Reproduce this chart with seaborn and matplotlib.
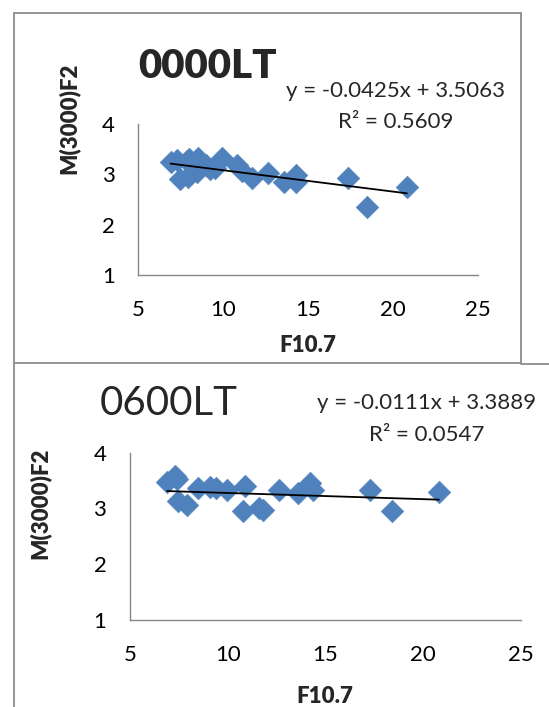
import matplotlib
matplotlib.use("Agg")
import matplotlib.pyplot as plt
from matplotlib.lines import Line2D
import numpy as np
import pandas as pd
import seaborn as sns

# F10.7 solar flux against M(3000)F2, 0000 LT
f107_0000 = [6.9, 7.3, 7.45, 7.85, 7.9, 8.0, 8.5, 8.45, 9.0, 9.2, 9.5, 9.95,
             10.8, 11.1, 11.7, 12.65, 13.6, 14.25, 14.25, 17.35, 18.45, 20.8]
m3000_0000 = [3.25, 3.28, 2.90, 3.27, 2.94, 3.30, 3.33, 3.05, 3.18, 3.10, 3.13, 3.33,
              3.18, 3.06, 2.92, 3.02, 2.85, 2.99, 2.85, 2.92, 2.36, 2.75]

# F10.7 solar flux against M(3000)F2, 0600 LT
f107_0600 = [6.9, 7.3, 7.4, 7.45, 7.9, 8.5, 9.1, 9.4, 9.95, 10.9, 10.8, 11.6,
             11.8, 12.6, 13.6, 14.2, 14.35, 17.3, 18.4, 20.8]
m3000_0600 = [3.47, 3.58, 3.52, 3.14, 3.06, 3.36, 3.39, 3.37, 3.33, 3.40, 2.96, 3.01,
              2.98, 3.33, 3.27, 3.46, 3.34, 3.34, 2.96, 3.29]

# linear trend lines (slope, intercept, R^2)
fit_0000 = (-0.0425, 3.5063, 0.5609)
fit_0600 = (-0.0111, 3.3889, 0.0547)

x_ticks = [5, 10, 15, 20, 25]
y_ticks = [1, 2, 3, 4]

sns.set_style("white")
plt.rcParams["font.family"] = ["Lato", "DejaVu Sans"]

W, H = 549, 707
fig = plt.figure(figsize=(W / 100, H / 100), dpi=100)


def fx(x):
    return x / W


def fy(y):
    return 1 - y / H


GREY = "#868686"
BLUE = "#4F81BD"


def panel(rect, xs, ys, fit):
    ax = fig.add_axes(rect)
    df = pd.DataFrame({"F10.7": xs, "M(3000)F2": ys})
    sns.scatterplot(data=df, x="F10.7", y="M(3000)F2", ax=ax, marker="D", s=135,
                    color=BLUE, edgecolor=BLUE, linewidth=0.3, zorder=2, clip_on=False)
    slope, intercept, _ = fit
    lx = np.array([min(xs), max(xs)])
    ax.plot(lx, slope * lx + intercept, color="black", lw=1.3, zorder=3)
    ax.set_xlim(5, 25)
    ax.set_ylim(1, 4)
    ax.set_xticks(x_ticks)
    ax.set_yticks(y_ticks)
    ax.set_xlabel("")
    ax.set_ylabel("")
    for s in ("top", "right"):
        ax.spines[s].set_visible(False)
    for s in ("left", "bottom"):
        ax.spines[s].set_color(GREY)
        ax.spines[s].set_linewidth(1.0)
    ax.tick_params(direction="out", length=5.5, width=1.0, color=GREY,
                   labelsize=16, labelcolor="black")
    ax.tick_params(axis="x", pad=12.5)
    ax.tick_params(axis="y", pad=11.5)
    ax.patch.set_alpha(0)
    return ax


ax_top = panel([fx(138.3), fy(275), 340 / W, 151 / H], f107_0000, m3000_0000, fit_0000)
ax_bot = panel([fx(130), fy(620), 391 / W, 167.3 / H], f107_0600, m3000_0600, fit_0600)

# chart frames
frame = dict(color="#8C8C8C", lw=1.3, transform=fig.transFigure)
for xs_, ys_ in [([14, 521], [12.5, 12.5]), ([521, 521], [12.5, 362.5]),
                 ([14, 521], [362.5, 362.5]), ([14, 14], [12.5, 707]),
                 ([521, 549], [363.5, 363.5])]:
    fig.add_artist(Line2D([fx(v) for v in xs_], [fy(v) for v in ys_], **frame))

# titles
fig.text(fx(208), fy(78), "0000LT", fontsize=29, fontweight="heavy", ha="center", va="baseline")
fig.text(fx(168.5), fy(415), "0600LT", fontsize=29, ha="center", va="baseline")

# trend line equations
for (cx, by1, by2), fit in [((396, 97, 128), fit_0000), ((427, 409, 441), fit_0600)]:
    slope, intercept, r2 = fit
    fig.text(fx(cx), fy(by1), f"y = {slope:.4f}x + {intercept:.4f}", fontsize=16,
             ha="center", va="baseline")
    fig.text(fx(cx), fy(by2), f"R² = {r2:.4f}", fontsize=16, ha="center", va="baseline")

# axis titles
lab = dict(fontsize=16, fontweight="heavy")
fig.text(fx(308), fy(352), "F10.7", ha="center", va="baseline", **lab)
fig.text(fx(325), fy(703), "F10.7", ha="center", va="baseline", **lab)
fig.text(fx(69), fy(118), "M(3000)F2", rotation=90, ha="center", va="center", **lab)
fig.text(fx(40), fy(503), "M(3000)F2", rotation=90, ha="center", va="center", **lab)

fig.savefig("out.png", dpi=100, facecolor="white")
